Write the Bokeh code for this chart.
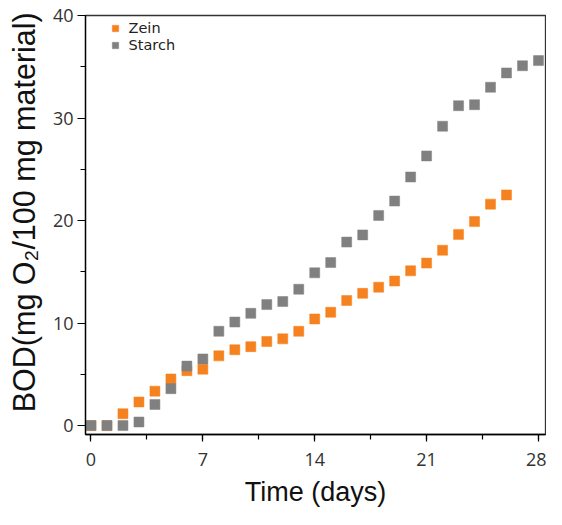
from bokeh.plotting import figure
from bokeh.models import Range1d, SingleIntervalTicker, Legend, LegendItem, ColumnDataSource
from bokeh.embed import file_html
from bokeh.resources import INLINE

# ---- data ----
zein_days = list(range(0, 27))
zein_bod = [0, 0, 1.16, 2.3, 3.36, 4.55, 5.36, 5.5, 6.8, 7.4, 7.7, 8.2, 8.46, 9.2,
            10.4, 11.05, 12.2, 12.9, 13.5, 14.1, 15.1, 15.85, 17.1, 18.65, 19.9,
            21.6, 22.5]
starch_days = list(range(0, 29))
starch_bod = [0, 0, 0, 0.35, 2.06, 3.6, 5.8, 6.5, 9.2, 10.1, 10.95, 11.8, 12.1, 13.3,
              14.9, 15.9, 17.9, 18.6, 20.5, 21.9, 24.25, 26.3, 29.2, 31.2, 31.3,
              33.0, 34.4, 35.1, 35.6]
series_names = ["Zein", "Starch"]
x_ticks_interval = 7
y_ticks_interval = 10

ORANGE = "#F5821F"
GRAY = "#808080"

p = figure(width=546, height=509, output_backend="svg", toolbar_location=None,
           x_range=Range1d(-0.344, 28.44), y_range=Range1d(-0.87, 40),
           min_border_left=85, min_border_right=1, min_border_top=15,
           min_border_bottom=72)
p.background_fill_color = "white"
p.border_fill_color = "white"
p.grid.visible = False
p.outline_line_color = "#333333"
p.outline_line_width = 1.3

src_z = ColumnDataSource(dict(x=zein_days, y=zein_bod))
src_s = ColumnDataSource(dict(x=starch_days, y=starch_bod))
rz = p.scatter("x", "y", source=src_z, marker="square", size=10,
               fill_color=ORANGE, line_color=ORANGE, line_width=0.5)
rs = p.scatter("x", "y", source=src_s, marker="square", size=10,
               fill_color=GRAY, line_color=GRAY, line_width=0.5)

for ax, interval in ((p.xaxis[0], x_ticks_interval), (p.yaxis[0], y_ticks_interval)):
    ax.ticker = SingleIntervalTicker(interval=interval, num_minor_ticks=2)
    ax.axis_line_color = "black"
    ax.axis_line_width = 1.3
    ax.major_tick_line_color = "black"
    ax.minor_tick_line_color = "black"
    ax.major_tick_line_width = 1.2
    ax.minor_tick_line_width = 1.2
    ax.major_tick_in = 0
    ax.minor_tick_in = 0
    ax.major_label_text_font = "Open Sans"
    ax.major_label_text_font_size = "18px"
    ax.major_label_text_color = "#333333"
    ax.axis_label_text_font = "Liberation Sans"
    ax.axis_label_text_font_style = "normal"
    ax.axis_label_text_color = "#111111"

p.xaxis.major_tick_out = 7
p.xaxis.minor_tick_out = 5
p.yaxis.major_tick_out = 8
p.yaxis.minor_tick_out = 5
p.xaxis.major_label_standoff = 11
p.yaxis.major_label_standoff = 4

p.xaxis.axis_label = "Time (days)"
p.xaxis.axis_label_text_font_size = "27px"
p.xaxis.axis_label_standoff = 8
# leading no-break spaces nudge the rotated label upward, as in the reference
p.yaxis.axis_label = "\u00a0\u00a0\u00a0BOD(mg O\u2082/100 mg material)"
p.yaxis.axis_label_text_font_size = "30.5px"
p.yaxis.axis_label_standoff = 9


def make_legend(name, renderer, loc):
    lg = Legend(items=[LegendItem(label=name, renderers=[renderer])], location=loc)
    lg.margin = 0
    lg.padding = 4
    lg.spacing = 0
    lg.glyph_width = 22
    lg.glyph_height = 16
    lg.label_standoff = 3
    lg.label_text_font = "DejaVu Sans"
    lg.label_text_font_size = "14.5px"
    lg.label_text_color = "#222222"
    lg.border_line_alpha = 0
    lg.background_fill_alpha = 0
    lg.label_height = 14
    return lg


p.add_layout(make_legend(series_names[0], rz, (14.5, 394)))
p.add_layout(make_legend(series_names[1], rs, (14.5, 377.5)))

open("out.html", "w").write(file_html(p, INLINE))
